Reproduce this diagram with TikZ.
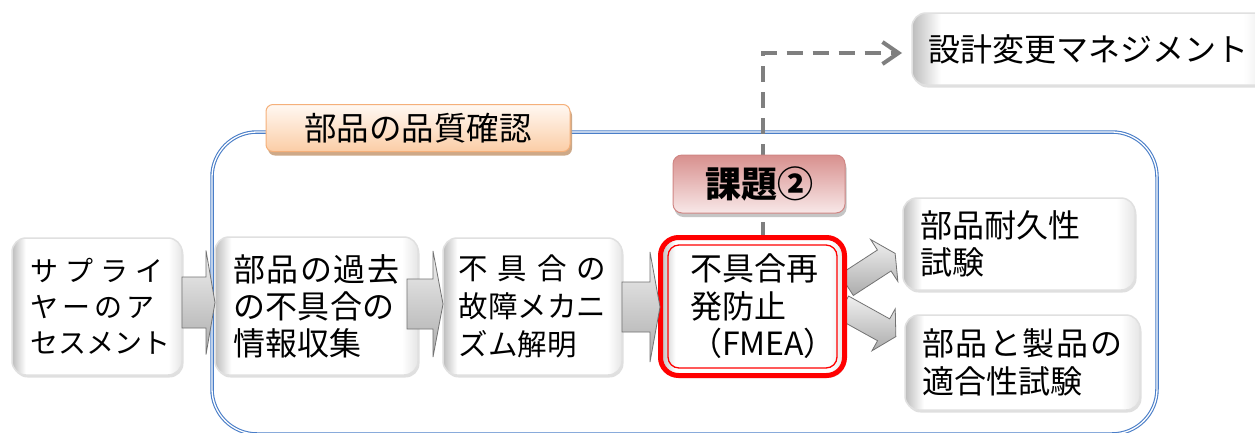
\documentclass[tikz,border=0pt]{standalone}
\usepackage{fontspec}
\setmainfont{Noto Sans CJK JP}
\usetikzlibrary{calc,shadows,arrows.meta}
\definecolor{frameblue}{HTML}{4A7EC8}
\definecolor{labtop}{HTML}{FFF8F2}
\definecolor{labbot}{HTML}{FBCDA6}
\definecolor{labborder}{HTML}{F5B07A}
\definecolor{labshadow}{HTML}{C9A07C}
\definecolor{kadtop}{HTML}{D8908E}
\definecolor{kadbot}{HTML}{F8E8E8}
\definecolor{kadborder}{HTML}{D08684}
\definecolor{dashgray}{HTML}{7F7F7F}
\colorlet{edgeL}{black!26}
\colorlet{edgeR}{black!10}
\colorlet{boxwhite}{white}
\pgfdeclarehorizontalshading{boxshade}{100bp}{color(0bp)=(edgeL); color(25bp)=(edgeL); color(29bp)=(boxwhite); color(71bp)=(boxwhite); color(75bp)=(edgeR); color(100bp)=(edgeR)}
\pgfdeclarelayer{back}
\pgfdeclarelayer{mid}
\pgfsetlayers{back,mid,main}
\newcommand\jl[2]{\makebox[#1][s]{#2}}
\newcommand\barrowdraw[6]{%
  \begin{scope}[shift={#1}, rotate=#2]
    \path[barrow] (0,-#4) -- ({#3-#6},-#4) -- ({#3-#6},-#5) -- (#3,0) -- ({#3-#6},#5) -- ({#3-#6},#4) -- (0,#4) -- cycle;
  \end{scope}}
\tikzset{
  jbox/.style={rounded corners=14pt, shading=boxshade, draw=black!12, line width=1.5pt,
    drop shadow={shadow xshift=1.5pt, shadow yshift=-2.5pt, fill=black!35, opacity=0.35},
    align=left, inner sep=0pt, outer sep=0pt},
  barrow/.style={top color=gray!12, bottom color=gray!65, draw=black!55, line width=0.8pt, line join=miter},
  frame/.style={draw=frameblue, double=white, double distance=1.3pt, line width=1.1pt, rounded corners=45pt},
  labbox/.style={rounded corners=7pt, top color=labtop, bottom color=labbot, draw=labborder, line width=1pt,
    drop shadow={shadow xshift=2pt, shadow yshift=-4pt, fill=labshadow, opacity=0.9},
    minimum width=304pt, minimum height=47pt, inner sep=0pt, outer sep=0pt, font=\fontsize{32.5}{36}\selectfont},
  kadbox/.style={rounded corners=9pt, top color=kadtop, bottom color=kadbot, draw=kadborder, line width=1pt,
    drop shadow={shadow xshift=1.5pt, shadow yshift=-4pt, fill=black!45, opacity=0.5},
    minimum width=172pt, minimum height=58pt, inner sep=0pt, outer sep=0pt, font=\fontsize{36}{40}\selectfont\bfseries},
  dashconn/.style={draw=dashgray, line width=4.5pt, dash pattern=on 16pt off 10pt,
    -{Straight Barb[length=16pt,width=22pt,line width=4pt]}},
}
\begin{document}
\begin{tikzpicture}[x=1pt,y=-1pt]
\useasboundingbox (0,0) rectangle (1255,432);

% process boxes
\node[jbox, minimum width=170pt, minimum height=137pt, font=\fontsize{28}{36}\selectfont] (n1) at (97,306.5)
  {\jl{134pt}{サ\hfill プ\hfill ラ\hfill イ}\\\jl{125pt}{ヤ\hfill ー\hfill の\hfill ア}\\\jl{134pt}{セスメント}};
\node[jbox, minimum width=203pt, minimum height=138pt, font=\fontsize{32}{37}\selectfont] (n2) at (316.5,306)
  {\jl{166pt}{部\hfill 品\hfill の\hfill 過\hfill 去}\\\jl{161pt}{の\hfill 不\hfill 具\hfill 合\hfill の}\\情報収集};
\node[jbox, minimum width=179pt, minimum height=137pt, font=\fontsize{29.5}{38}\selectfont] (n3) at (532.5,306.5)
  {\jl{147pt}{不\hfill 具\hfill 合\hfill の}\\故障メカニ\\ズム解明};
\node[jbox, draw=red, line width=5pt, rounded corners=18pt, minimum width=184pt, minimum height=138pt,
  text width=125pt, inner xsep=29.5pt, font=\fontsize{32}{37.5}\selectfont] (n4) at (752.5,306.5)
  {不具合再\\発防止\\\makebox[125pt][l]{（FMEA）}};
\draw[red, line width=1.3pt, rounded corners=11pt] ($(n4.north west)+(7.5,7.5)$) rectangle ($(n4.south east)+(-7.5,-7.5)$);
\node[jbox, minimum width=232pt, minimum height=92pt, text width=198pt, inner xsep=17pt,
  font=\fontsize{32}{37}\selectfont] (n5) at (1019,244) {部品耐久性\\試験};
\node[jbox, minimum width=235pt, minimum height=95pt, text width=201pt, inner xsep=17pt,
  font=\fontsize{32}{38}\selectfont] (n6) at (1022.5,362.5)
  {\jl{200pt}{部\hfill 品\hfill と\hfill 製\hfill 品\hfill の}\\適合性試験};
\node[jbox, minimum width=360pt, minimum height=72pt, text width=328pt, inner xsep=16pt,
  font=\fontsize{32}{36}\selectfont] (design) at (1092,49) {設計変更マネジメント};

% labels
\node[labbox] (lab) at (418,128) {部品の品質確認};
\node[kadbox] (kadai) at (759,184) {課題②};

% block arrows between steps
\barrowdraw{($(n1.east)+(0,-4)$)}{0}{33}{25.5}{52}{9}
\barrowdraw{($(n2.east)+(-11,-2)$)}{0}{36}{25}{53}{10}
\barrowdraw{($(n3.east)+(0,0.5)$)}{0}{38}{25}{55}{10}

\begin{pgfonlayer}{mid}
  \barrowdraw{($(n4.east)+(2,-21.5)$)}{33}{58}{12.5}{25}{13}
  \barrowdraw{($(n4.east)+(-2,0.5)$)}{-29}{61}{12.5}{24}{14}
  \coordinate (turn) at (763,53);
  \draw[dashconn, shorten >=10pt] (turn |- n4.north) -- (turn) -- (turn -| design.west);
\end{pgfonlayer}

\begin{pgfonlayer}{back}
  \fill[white] (0,0) rectangle (1255,432);
  \draw[frame] (212,132) rectangle (1157,434);
\end{pgfonlayer}
\end{tikzpicture}
\end{document}
